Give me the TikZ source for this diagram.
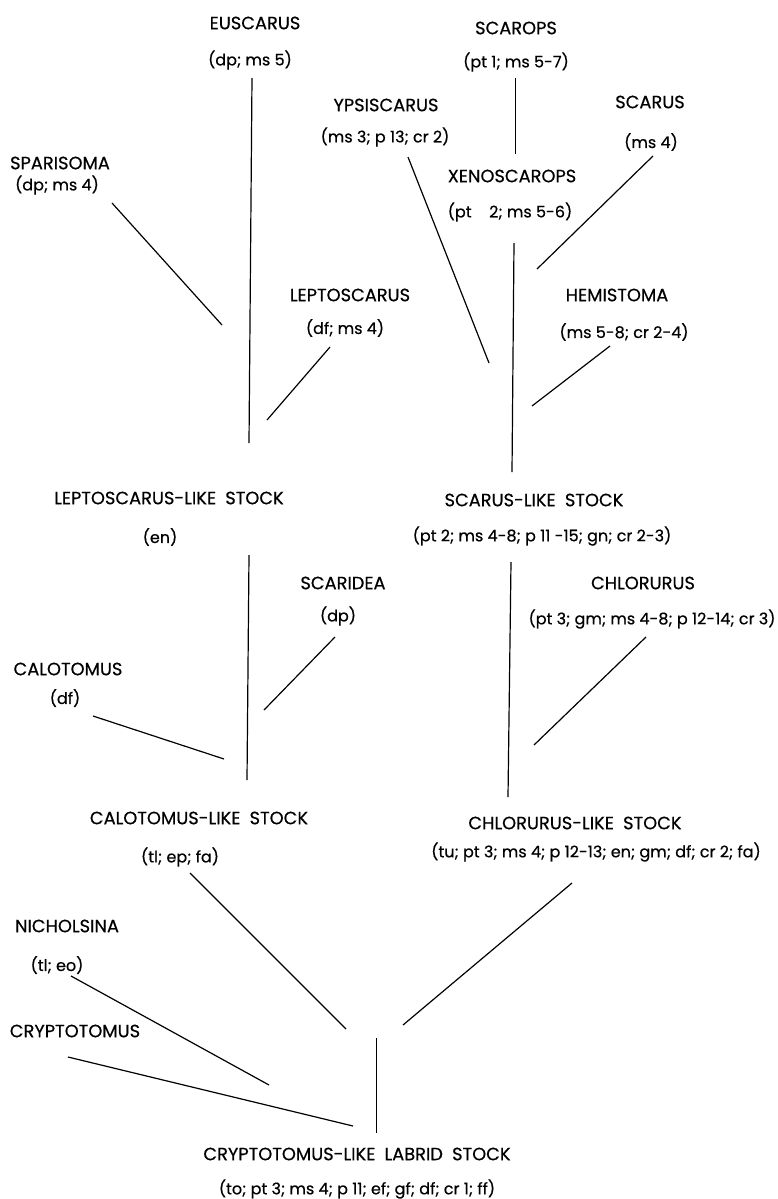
\documentclass[tikz,border=0pt]{standalone}
\usepackage{fontspec}
\setmainfont{Poppins}[FakeBold=0.5]
\tikzset{
  taxon/.style={inner sep=0pt, font=\fontsize{17.8}{20}\selectfont},
  trait/.style={inner sep=0pt, font=\fontsize{16}{18}\selectfont},
  branch/.style={line width=1.2pt}
}
\begin{document}
\begin{tikzpicture}[x=1pt,y=-1pt]
  \useasboundingbox (0,0) rectangle (778,1199);
  % upper genera
  \node[taxon] (euscarus) at (255,23) {EUSCARUS};
  \node[trait] (euscarusT) at (250,60) {(dp; ms 5)};
  \node[taxon] (scarops) at (516,28) {SCAROPS};
  \node[trait] (scaropsT) at (516,62) {(pt 1; ms 5-7)};
  \node[taxon] (ypsiscarus) at (386,105) {YPSISCARUS};
  \node[trait] (ypsiscarusT) at (385,137) {(ms 3; p 13; cr 2)};
  \node[taxon] (scarus) at (650,102) {SCARUS};
  \node[trait] (scarusT) at (651,142) {(ms 4)};
  \node[taxon] (sparisoma) at (60,163) {SPARISOMA};
  \node[trait] (sparisomaT) at (57,185) {(dp; ms 4)};
  \node[taxon] (xenoscarops) at (512,176) {XENOSCAROPS};
  \node[trait] (xenoscaropsT) at (510,212) {(pt\hspace{1.1em}2; ms 5-6)};
  \node[taxon] (leptoscarus) at (350,295) {LEPTOSCARUS};
  \node[trait] (leptoscarusT) at (345,328) {(df; ms 4)};
  \node[taxon] (hemistoma) at (617,295) {HEMISTOMA};
  \node[trait] (hemistomaT) at (624,332) {(ms 5-8; cr 2-4)};
  % stocks and lower genera
  \node[taxon] (leptostock) at (169,498) {LEPTOSCARUS-LIKE\hspace{0.25em} STOCK};
  \node[trait] (leptostockT) at (160,537) {(en)};
  \node[taxon] (scarusstock) at (534,500) {SCARUS-LIKE\hspace{0.25em} STOCK};
  \node[trait] (scarusstockT) at (542,536) {(pt 2; ms 4-8; p 11 -15; gn; cr 2-3)};
  \node[taxon] (scaridea) at (343,583) {SCARIDEA};
  \node[trait] (scarideaT) at (338,616) {(dp)};
  \node[taxon] (chlorurus) at (643,583) {CHLORURUS};
  \node[trait] (chlorurusT) at (652,619) {(pt 3; gm; ms 4-8; p 12-14; cr 3)};
  \node[taxon] (calotomus) at (68,669) {CALOTOMUS};
  \node[trait] (calotomusT) at (65,698) {(df)};
  \node[taxon] (calostock) at (199,818) {CALOTOMUS-LIKE\hspace{0.25em} STOCK};
  \node[trait] (calostockT) at (180,857) {(tl; ep; fa)};
  \node[taxon] (chlorostock) at (575,823) {CHLORURUS-LIKE\hspace{0.25em} STOCK};
  \node[trait] (chlorostockT) at (596,852) {(tu; pt 3; ms 4; p 12-13; en; gm; df; cr 2; fa)};
  \node[taxon] (nicholsina) at (67,926) {NICHOLSINA};
  \node[trait] (nicholsinaT) at (57,965) {(tl; eo)};
  \node[taxon] (cryptotomus) at (75,1031) {CRYPTOTOMUS};
  \node[taxon] (labrid) at (357,1154) {CRYPTOTOMUS-LIKE\hspace{0.25em} LABRID\hspace{0.25em} STOCK};
  \node[trait] (labridT) at (357,1189) {(to; pt 3; ms 4; p 11; ef; gf; df; cr 1; ff)};
  % branch ends
  \coordinate (eus1) at (252,78);     \coordinate (eus2) at (249,443);
  \coordinate (sco1) at (515.5,78);   \coordinate (sco2) at (515.5,154);
  \coordinate (yps1) at (408,157);    \coordinate (yps2) at (489,363);
  \coordinate (xen1) at (514,243);    \coordinate (xen2) at (512,472);
  \coordinate (sca1) at (653,156);    \coordinate (sca2) at (537,269);
  \coordinate (spa1) at (112,203);    \coordinate (spa2) at (222,325);
  \coordinate (lep1) at (330,347);    \coordinate (lep2) at (267,420);
  \coordinate (hem1) at (610,346);    \coordinate (hem2) at (532,406);
  \coordinate (lst1) at (249,555);    \coordinate (lst2) at (247,780);
  \coordinate (sst1) at (511,562);    \coordinate (sst2) at (508,797);
  \coordinate (sci1) at (335,637);    \coordinate (sci2) at (264,710);
  \coordinate (cal1) at (93,716);     \coordinate (cal2) at (224,759);
  \coordinate (chl1) at (646,637);    \coordinate (chl2) at (534,745);
  \coordinate (cst1) at (190,873);    \coordinate (cst2) at (346,1029);
  \coordinate (hst1) at (572,883);    \coordinate (hst2) at (403,1025);
  \coordinate (nic1) at (71,976);     \coordinate (nic2) at (269,1085);
  \coordinate (cry1) at (68,1057);    \coordinate (cry2) at (353,1126);
  \coordinate (lab1) at (376.5,1038); \coordinate (lab2) at (376.5,1133);
  \foreach \a in {eus,sco,yps,xen,sca,spa,lep,hem,lst,sst,sci,cal,chl,cst,hst,nic,cry,lab}
    \draw[branch] (\a1) -- (\a2);
\end{tikzpicture}
\end{document}
